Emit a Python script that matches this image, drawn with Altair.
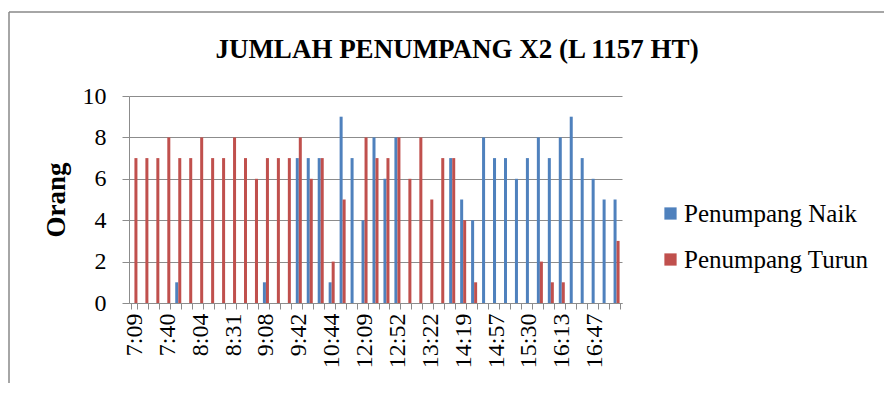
import altair as alt
import pandas as pd

categories = ["7:09", "7:19", "7:30", "7:40", "7:48", "7:56", "8:04", "8:13", "8:22",
              "8:31", "8:43", "8:55", "9:08", "9:19", "9:31", "9:42", "10:02", "10:23",
              "10:44", "11:12", "11:41", "12:09", "12:23", "12:38", "12:52", "13:02",
              "13:12", "13:22", "13:41", "14:00", "14:19", "14:32", "14:44", "14:57",
              "15:08", "15:19", "15:30", "15:44", "15:59", "16:13", "16:24", "16:36",
              "16:47", "16:58", "17:09"]
shown_labels = ["7:09", "7:40", "8:04", "8:31", "9:08", "9:42", "10:44", "12:09",
                "12:52", "13:22", "14:19", "14:57", "15:30", "16:13", "16:47"]
naik = [0, 0, 0, 0, 1, 0, 0, 0, 0, 0, 0, 0, 1, 0, 0, 7, 7, 7, 1, 9, 7, 4, 8, 6, 8,
        0, 0, 0, 0, 7, 5, 4, 8, 7, 7, 6, 7, 8, 7, 8, 9, 7, 6, 5, 5]
turun = [7, 7, 7, 8, 7, 7, 8, 7, 7, 8, 7, 6, 7, 7, 7, 8, 6, 7, 2, 5, 0, 8, 7, 7, 8,
         6, 8, 5, 7, 7, 4, 1, 0, 0, 0, 0, 0, 2, 1, 1, 0, 0, 0, 0, 3]
series = ["Penumpang Naik", "Penumpang Turun"]
colors = ["#4F81BD", "#C0504D"]
title_text = "JUMLAH PENUMPANG X2 (L 1157 HT)"

rows = []
for c, a, b in zip(categories, naik, turun):
    rows.append({"waktu": c, "seri": series[0], "jumlah": a})
    rows.append({"waktu": c, "seri": series[1], "jumlah": b})
df = pd.DataFrame(rows)

FONT = "Liberation Serif"
GRAY = "#8c8c8c"
label_list = "[" + ",".join("'" + s + "'" for s in shown_labels) + "]"

bars = alt.Chart(df).mark_bar().encode(
    x=alt.X("waktu:N", sort=categories,
            scale=alt.Scale(paddingInner=0.45, paddingOuter=0.22),
            axis=alt.Axis(title=None, labelAngle=-90, labelFont=FONT, labelFontSize=24,
                          labelColor="black", labelPadding=4,
                          labelExpr=f"indexof({label_list}, datum.value) >= 0 ? datum.value : ''",
                          domainColor=GRAY, tickColor=GRAY, tickSize=6, tickBand="extent",
                          labelOverlap=False, grid=False)),
    xOffset=alt.XOffset("seri:N", sort=series, scale=alt.Scale(paddingInner=0, paddingOuter=0)),
    y=alt.Y("jumlah:Q", scale=alt.Scale(domain=[0, 10], nice=False),
            axis=alt.Axis(title="Orang", values=[0, 2, 4, 6, 8, 10], grid=True,
                          gridColor=GRAY, domainColor=GRAY, tickColor=GRAY, tickSize=7,
                          labelFont=FONT, labelFontSize=24, labelColor="black",
                          labelPadding=16, titleFont=FONT, titleFontSize=27,
                          titleFontWeight="bold", titleColor="black", titlePadding=12)),
    color=alt.Color("seri:N", sort=series,
                    scale=alt.Scale(domain=series, range=colors),
                    legend=alt.Legend(title=None, orient="none", legendX=529, legendY=105,
                                      direction="vertical", symbolType="square",
                                      symbolSize=150, symbolStrokeWidth=0,
                                      labelFont=FONT, labelFontSize=25, labelColor="black",
                                      labelLimit=0, rowPadding=20, labelOffset=1)),
)

title = alt.Chart(alt.Data(values=[{"t": title_text}])).mark_text(
    font=FONT, fontSize=27, fontWeight="bold", color="black",
    align="center", baseline="alphabetic"
).encode(text="t:N", x=alt.value(328), y=alt.value(-38))

frame = alt.Chart(alt.Data(values=[{}])).mark_rule(color="#888888", strokeWidth=1.5).encode(
    x=alt.value(-120), x2=alt.value(800), y=alt.value(-84)
)
frame_left = alt.Chart(alt.Data(values=[{}])).mark_rule(color="#888888", strokeWidth=1.5).encode(
    x=alt.value(-120), y=alt.value(-84), y2=alt.value(300)
)

chart = alt.layer(frame, frame_left, title, bars).properties(
    width=493, height=207,
    autosize=alt.AutoSizeParams(type="none"),
    padding={"left": 121, "top": 88, "right": 262, "bottom": 80},
).configure_view(stroke=None)

chart.save("out.html", embed_options={"renderer": "svg", "actions": False})
